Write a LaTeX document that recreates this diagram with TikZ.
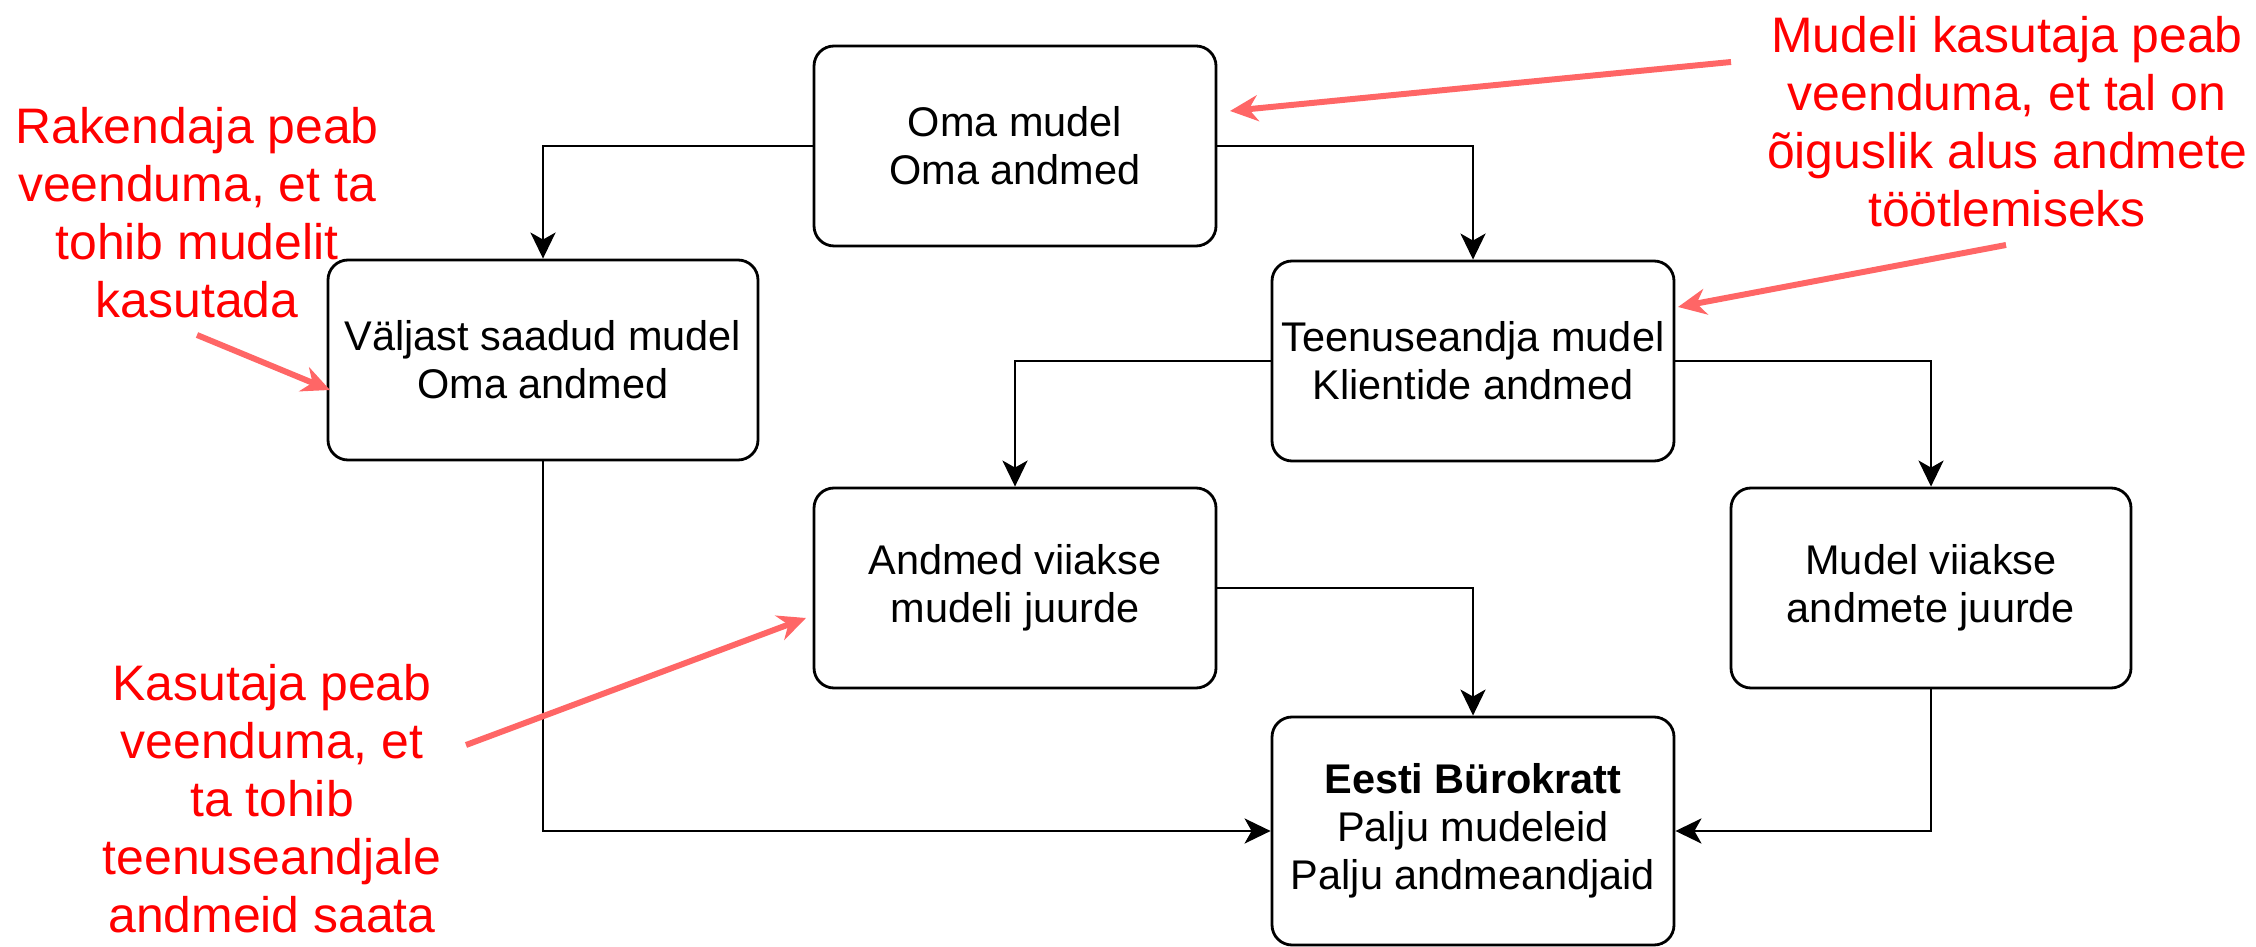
\documentclass[tikz,border=0pt]{standalone}
\usepackage{fontspec}
\setmainfont{Liberation Sans}
\usetikzlibrary{arrows.meta}
\definecolor{notered}{HTML}{FF6666}

\begin{document}
\begin{tikzpicture}[x=0.1mm, y=-0.1mm,
		box/.style={draw, line width=0.8pt, rounded corners=2mm, align=center, inner sep=0pt,
			minimum width=40.2mm, minimum height=20mm, font=\fontsize{11.8pt}{13.7pt}\selectfont},
		flow/.style={line width=0.8pt, -{Stealth[length=2.6mm, width=2.5mm, inset=0.7mm]}},
		note/.style={align=center, text=red, inner sep=0pt, font=\fontsize{14.2pt}{16.5pt}\selectfont},
		hint/.style={notered, line width=1.7pt, -{Stealth[length=2.8mm, width=2.6mm]}}]
		%%%%% START %%%%%
		
		\useasboundingbox (0, 0) rectangle (2256, 947);
		
		\node[box] (oma) at (1015, 146) {Oma mudel\\Oma andmed};
		\node[box, minimum width=43mm] (valjast) at (543, 360) {Väljast saadud mudel\\Oma andmed};
		\node[box] (teenus) at (1473, 361) {Teenuseandja mudel\\Klientide andmed};
		\node[box] (viiakse) at (1015, 588) {Andmed viiakse\\mudeli juurde};
		\node[box, minimum width=40mm] (kohale) at (1931, 588) {Mudel viiakse\\andmete juurde};
		\node[box, minimum height=22.8mm] (byrokratt) at (1473, 831) {\textbf{Eesti Bürokratt}\\Palju mudeleid\\Palju andmeandjaid};
		
		\draw[flow] (oma) -| (valjast);
		\draw[flow] (oma) -| (teenus);
		\draw[flow] (teenus) -| (viiakse);
		\draw[flow] (teenus) -| (kohale);
		\draw[flow] (viiakse) -| (byrokratt);
		\draw[flow] (valjast) |- (byrokratt);
		\draw[flow] (kohale) |- (byrokratt);
		
		% markused
		\node[note] (kasutajaNote) at (2007, 122) {Mudeli kasutaja peab\\veenduma, et tal on\\õiguslik alus andmete\\töötlemiseks};
		\node[note] (rakendajaNote) at (197, 213) {Rakendaja peab\\veenduma, et ta\\tohib mudelit\\kasutada};
		\node[note] (saatjaNote) at (272, 799) {Kasutaja peab\\veenduma, et\\ta tohib\\teenuseandjale\\andmeid saata};
		
		\coordinate (hintA) at (1731, 62);
		\coordinate (hintB) at (2006, 245);
		\coordinate (hintC) at (197, 335);
		\coordinate (hintD) at (466, 745);
		
		\draw[hint] (hintA) -- (1230, 111);
		\draw[hint] (hintB) -- (1678, 307);
		\draw[hint] (hintC) -- (330, 390);
		\draw[hint] (hintD) -- (806, 618);
		
		%%%%% END %%%%%
	\end{tikzpicture}
\end{document}
